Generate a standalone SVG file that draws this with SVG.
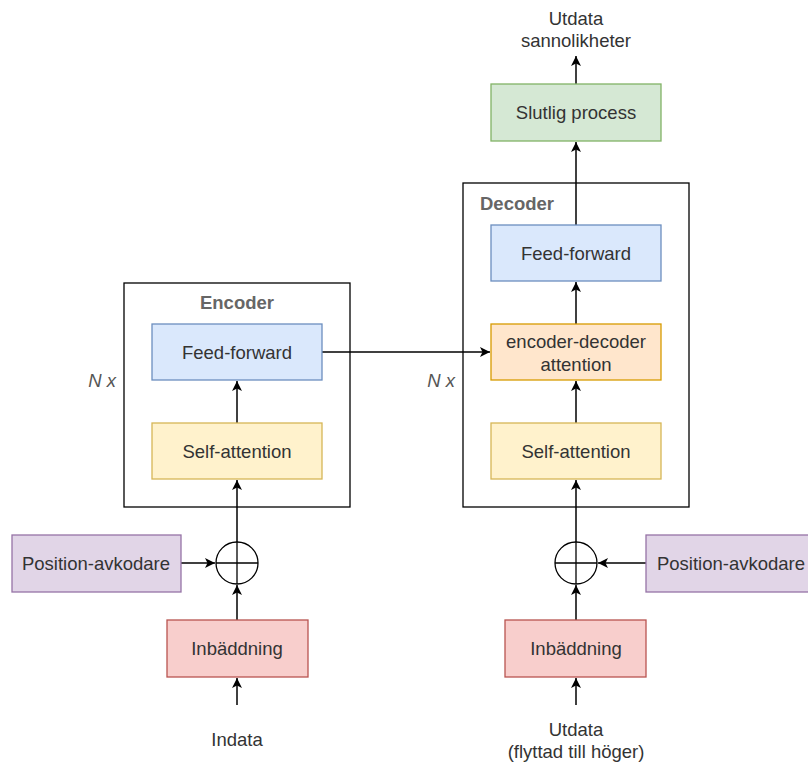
<svg xmlns="http://www.w3.org/2000/svg" width="808" height="769" viewBox="0 0 808 769">
  <defs>
    <marker id="arrow" viewBox="0 0 10 10" refX="10" refY="5" markerWidth="10" markerHeight="10" markerUnits="userSpaceOnUse" orient="auto">
      <path d="M0,0 L10,5 L0,10 L2.5,5 Z" fill="#000"/>
    </marker>
    <style>
      .lbl { font-family: "Liberation Sans", Arial, sans-serif; font-size: 18.5px; fill: #333; text-anchor: middle; }
      .title { font-family: "Liberation Sans", Arial, sans-serif; font-size: 18.5px; font-weight: bold; fill: #666; }
      .nx { font-family: "Liberation Sans", Arial, sans-serif; font-size: 18.5px; font-style: italic; fill: #555; text-anchor: middle; }
      .frame { fill: #fff; stroke: #000; stroke-width: 1.3; }
      .blue { fill: #dae8fc; stroke: #6c8ebf; stroke-width: 1.3; }
      .yellow { fill: #fff2cc; stroke: #d6b656; stroke-width: 1.3; }
      .orange { fill: #ffe6cc; stroke: #d79b00; stroke-width: 1.3; }
      .green { fill: #d5e8d4; stroke: #82b366; stroke-width: 1.3; }
      .purple { fill: #e1d5e7; stroke: #9673a6; stroke-width: 1.3; }
      .red { fill: #f8cecc; stroke: #b85450; stroke-width: 1.3; }
      .sum { fill: #fff; stroke: #000; stroke-width: 1.3; }
      .edge { fill: none; stroke: #000; stroke-width: 1.5; marker-end: url(#arrow); }
    </style>
  </defs>

  <rect width="808" height="769" fill="#fff"/>

  <!-- containers -->
  <g id="encoder">
    <rect class="frame" x="124" y="283" width="226" height="224"/>
    <text class="title" x="237" y="309" text-anchor="middle">Encoder</text>
  </g>
  <g id="decoder">
    <rect class="frame" x="463" y="183" width="226" height="324"/>
    <text class="title" x="480" y="210">Decoder</text>
  </g>

  <text class="nx" x="102" y="387">N x</text>
  <text class="nx" x="441" y="387">N x</text>

  <!-- connectors -->
  <g id="connectors">
    <line class="edge" x1="237" y1="705" x2="237" y2="678"/>
    <line class="edge" x1="237" y1="620" x2="237" y2="585"/>
    <line class="edge" x1="181" y1="563" x2="215" y2="563"/>
    <line class="edge" x1="237" y1="542" x2="237" y2="480"/>
    <line class="edge" x1="237" y1="423" x2="237" y2="381"/>
    <line class="edge" x1="322" y1="352" x2="490" y2="352"/>
    <line class="edge" x1="576" y1="705" x2="576" y2="678"/>
    <line class="edge" x1="576" y1="620" x2="576" y2="585"/>
    <line class="edge" x1="646" y1="563" x2="598" y2="563"/>
    <line class="edge" x1="576" y1="542" x2="576" y2="480"/>
    <line class="edge" x1="576" y1="423" x2="576" y2="381"/>
    <line class="edge" x1="576" y1="324" x2="576" y2="282"/>
    <line class="edge" x1="576" y1="225" x2="576" y2="142"/>
    <line class="edge" x1="576" y1="84" x2="576" y2="56"/>
  </g>

  <!-- encoder side -->
  <g id="enc-ff">
    <rect class="blue" x="152" y="324" width="170" height="56"/>
    <text class="lbl" x="237" y="359">Feed-forward</text>
  </g>
  <g id="enc-sa">
    <rect class="yellow" x="152" y="423" width="170" height="56"/>
    <text class="lbl" x="237" y="458">Self-attention</text>
  </g>
  <g id="enc-sum">
    <circle class="sum" cx="237" cy="563" r="21"/>
    <line x1="216" y1="563" x2="258" y2="563" stroke="#000" stroke-width="1.3"/>
    <line x1="237" y1="542" x2="237" y2="584" stroke="#000" stroke-width="1.3"/>
  </g>
  <g id="enc-pos">
    <rect class="purple" x="12" y="535" width="169" height="57"/>
    <text class="lbl" x="96" y="570">Position-avkodare</text>
  </g>
  <g id="enc-emb">
    <rect class="red" x="167" y="620" width="141" height="57"/>
    <text class="lbl" x="237" y="655">Inbäddning</text>
  </g>
  <g id="enc-in">
    <text class="lbl" x="237" y="746">Indata</text>
  </g>

  <!-- decoder side -->
  <g id="dec-ff">
    <rect class="blue" x="491" y="225" width="170" height="56"/>
    <text class="lbl" x="576" y="260">Feed-forward</text>
  </g>
  <g id="dec-eda">
    <rect class="orange" x="491" y="324" width="170" height="56"/>
    <text class="lbl" x="576" y="348">encoder-decoder</text>
    <text class="lbl" x="576" y="371">attention</text>
  </g>
  <g id="dec-sa">
    <rect class="yellow" x="491" y="423" width="170" height="56"/>
    <text class="lbl" x="576" y="458">Self-attention</text>
  </g>
  <g id="dec-sum">
    <circle class="sum" cx="576" cy="563" r="21"/>
    <line x1="555" y1="563" x2="597" y2="563" stroke="#000" stroke-width="1.3"/>
    <line x1="576" y1="542" x2="576" y2="584" stroke="#000" stroke-width="1.3"/>
  </g>
  <g id="dec-pos">
    <rect class="purple" x="646" y="535" width="170" height="57"/>
    <text class="lbl" x="731" y="570">Position-avkodare</text>
  </g>
  <g id="dec-emb">
    <rect class="red" x="505" y="620" width="141" height="57"/>
    <text class="lbl" x="576" y="655">Inbäddning</text>
  </g>
  <g id="dec-in">
    <text class="lbl" x="576" y="736">Utdata</text>
    <text class="lbl" x="576" y="758">(flyttad till höger)</text>
  </g>
  <g id="final">
    <rect class="green" x="491" y="84" width="170" height="57"/>
    <text class="lbl" x="576" y="119">Slutlig process</text>
  </g>
  <g id="out">
    <text class="lbl" x="576" y="25">Utdata</text>
    <text class="lbl" x="576" y="47">sannolikheter</text>
  </g>
</svg>
